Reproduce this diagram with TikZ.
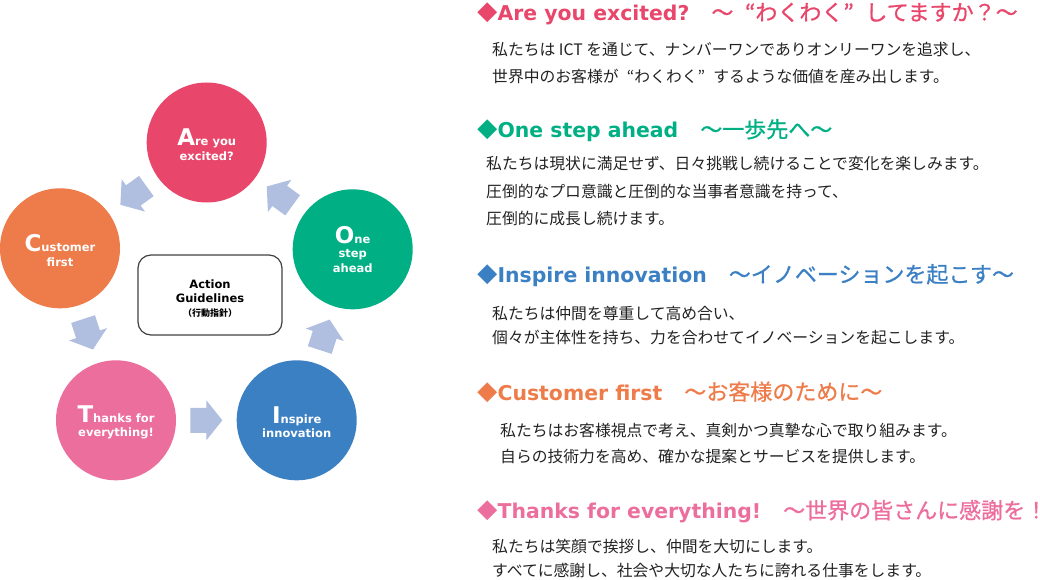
\documentclass[tikz,border=0pt]{standalone}
\usepackage{fontspec}
\setmainfont{DejaVu Sans}
\newfontfamily\jp{Noto Sans CJK JP}
\newfontfamily\jph[FakeBold=0.8]{Noto Sans CJK JP}
\usetikzlibrary{calc}
\definecolor{cA}{HTML}{E8476B}
\definecolor{cO}{HTML}{00B084}
\definecolor{cI}{HTML}{3C80C4}
\definecolor{cC}{HTML}{EE7C4B}
\definecolor{cT}{HTML}{EC6E9D}
\definecolor{arrowfill}{HTML}{B0BEE0}
\definecolor{boxline}{HTML}{404040}
\definecolor{bodytext}{HTML}{222222}
\newcommand\initial[1]{{\fontsize{23}{23}\selectfont #1}}
\newcommand\hdjp[1]{{\jph\fontsize{22}{24}\selectfont #1}}
\newcommand\oq{\makebox[1em][r]{“}}
\newcommand\cq{\makebox[1em][l]{”}}
\begin{document}
\begin{tikzpicture}[x=1pt,y=-1pt,
  circ/.style={circle,minimum size=120pt,inner sep=0pt},
  clabel/.style={text=white,font=\bfseries\fontsize{11.5}{14.5}\selectfont,align=center,inner sep=0pt},
  hd/.style={anchor=base west,inner sep=0pt,font=\fontsize{20.4}{24}\selectfont},
  body/.style={anchor=base west,inner sep=0pt,text=bodytext,font=\jp\fontsize{15.8}{18}\selectfont},
  guidebox/.style={draw=boxline,line width=1.2pt,rounded corners=13pt,minimum width=144pt,minimum height=80pt,inner sep=0pt},
  guidetext/.style={align=center,inner sep=0pt,font=\bfseries\fontsize{11.5}{14}\selectfont,text=black},
  blockarr/.pic={\fill[arrowfill] (-16,-12.5) -- (0,-12.5) -- (0,-20) -- (16,0) -- (0,20) -- (0,12.5) -- (-16,12.5) -- cycle;}
]
\useasboundingbox (0,0) rectangle (1040,580);

% circles
\node[circ,fill=cA] (nA) at (206.7,142.5) {};
\node[circ,fill=cO] (nO) at (352.7,249.3) {};
\node[circ,fill=cI] (nI) at (296.7,420.3) {};
\node[circ,fill=cT] (nT) at (116,420.3) {};
\node[circ,fill=cC] (nC) at (60,248.3) {};

\node[clabel] (lA) at ([yshift=-2pt]nA.center) {\initial{A}re you\\excited?};
\node[clabel] (lO) at (nO.center) {\initial{O}ne\\step\\ahead};
\node[clabel] (lI) at ([yshift=-2pt]nI.center) {\initial{I}nspire\\innovation};
\node[clabel] (lT) at ([yshift=-2pt]nT.center) {\initial{T}hanks for\\everything!};
\node[clabel] (lC) at ([yshift=-2pt]nC.center) {\initial{C}ustomer\\first};

% cycle arrows
\pic[rotate=215.8] at ($(nA)!0.5!(nC)$) {blockarr};
\pic[rotate=-72] at ($(nC)!0.5!(nT)$) {blockarr};
\pic[rotate=0] at ($(nT)!0.5!(nI)$) {blockarr};
\pic[rotate=72] at ($(nI)!0.5!(nO)$) {blockarr};
\pic[rotate=144] at ($(nO)!0.5!(nA)$) {blockarr};

% centre box
\node[guidebox] (guide) at (210,295) {};
\node[guidetext] (guidetxt) at ([yshift=-3.5pt]guide.center) {Action\\Guidelines\\{\jp\fontsize{9}{11}\selectfont （行動指針）}};

% right-hand text
\node[hd,text=cA] (hA) at (477,20.5) {{\jp ◆}\textbf{Are you excited?}\hdjp{　～\oq わくわく\cq してますか？～}};
\node[body] (bA1) at (492,56) {私たちは ICT を通じて、ナンバーワンでありオンリーワンを追求し、};
\node[body] (bA2) at (492,83) {世界中のお客様が\oq わくわく\cq するような価値を産み出します。};

\node[hd,text=cO] (hO) at (477,137.5) {{\jp ◆}\textbf{One step ahead}\hdjp{　～一歩先へ～}};
\node[body] (bO1) at (486,170) {私たちは現状に満足せず、日々挑戦し続けることで変化を楽しみます。};
\node[body] (bO2) at (486,197) {圧倒的なプロ意識と圧倒的な当事者意識を持って、};
\node[body] (bO3) at (486,224) {圧倒的に成長し続けます。};

\node[hd,text=cI] (hI) at (477,282.5) {{\jp ◆}\textbf{Inspire innovation}\hdjp{　～イノベーションを起こす～}};
\node[body] (bI1) at (492,319) {私たちは仲間を尊重して高め合い、};
\node[body] (bI2) at (492,343) {個々が主体性を持ち、力を合わせてイノベーションを起こします。};

\node[hd,text=cC] (hC) at (477,400) {{\jp ◆}\textbf{Customer first}\hdjp{　～お客様のために～}};
\node[body] (bC1) at (500,436) {私たちはお客様視点で考え、真剣かつ真摯な心で取り組みます。};
\node[body] (bC2) at (500,462) {自らの技術力を高め、確かな提案とサービスを提供します。};

\node[hd,text=cT] (hT) at (477,518.5) {{\jp ◆}\textbf{Thanks for everything!}\hdjp{　～世界の皆さんに感謝を！}};
\node[body] (bT1) at (492,552) {私たちは笑顔で挨拶し、仲間を大切にします。};
\node[body] (bT2) at (492,576) {すべてに感謝し、社会や大切な人たちに誇れる仕事をします。};
\end{tikzpicture}
\end{document}
